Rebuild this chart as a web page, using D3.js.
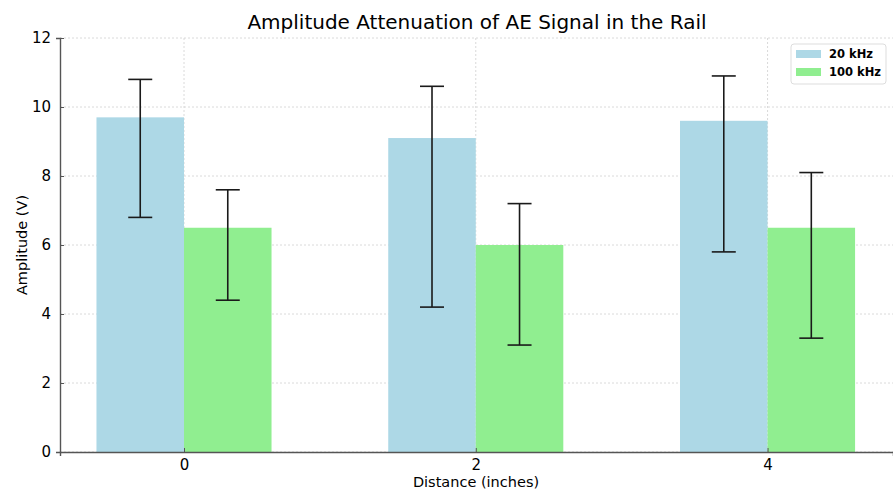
<!DOCTYPE html>
<html>
<head>
<meta charset="utf-8">
<script src="https://cdn.jsdelivr.net/npm/d3@7"></script>
<style>
  body { margin: 0; background: #fff; }
  svg { display: block; font-family: "DejaVu Sans", sans-serif; }
</style>
</head>
<body>
<svg width="893" height="491"></svg>
<script>
// data
const distances = ['0', '2', '4'];
const series = ['20 kHz', '100 kHz'];
const colors = ['#add8e6', '#90ee90'];
const amp20 = [9.7, 9.1, 9.6];
const amp100 = [6.5, 6.0, 6.5];
const hi20 = [10.8, 10.6, 10.9];
const lo20 = [6.8, 4.2, 5.8];
const hi100 = [7.6, 7.2, 8.1];
const lo100 = [4.4, 3.1, 3.3];
const yTicks = [0, 2, 4, 6, 8, 10, 12];

const svg = d3.select('svg');
const mLeft = 60, mRight = 893, mTop = 38, mBottom = 452;
const barW = 0.3;

const x = d3.scaleLinear().domain([-0.425, 2.43]).range([mLeft, mRight]);
const y = d3.scaleLinear().domain([0, 12]).range([mBottom, mTop]);

// grid
const grid = svg.append('g');
grid.selectAll('.hg').data(yTicks).enter().append('line')
    .attr('x1', mLeft).attr('x2', mRight)
    .attr('y1', d => y(d)).attr('y2', d => y(d))
    .attr('stroke', '#d0d0d0').attr('stroke-width', 0.8).attr('stroke-dasharray', '2,2');
grid.selectAll('.vg').data(distances).enter().append('line')
    .attr('x1', (d, i) => x(i)).attr('x2', (d, i) => x(i))
    .attr('y1', mTop).attr('y2', mBottom)
    .attr('stroke', '#d0d0d0').attr('stroke-width', 0.8).attr('stroke-dasharray', '2,2');

// bars
const rows = distances.map((d, i) => [
    { s: 0, i, v: amp20[i], hi: hi20[i], lo: lo20[i] },
    { s: 1, i, v: amp100[i], hi: hi100[i], lo: lo100[i] }
]).flat();

const xPos = d => d.s === 0 ? d.i - barW / 2 : d.i + barW / 2;

svg.append('g').selectAll('rect').data(rows).enter().append('rect')
    .attr('x', d => x(xPos(d) - barW / 2))
    .attr('width', d => x(barW) - x(0))
    .attr('y', d => y(d.v))
    .attr('height', d => y(0) - y(d.v))
    .attr('fill', d => colors[d.s]);

// error bars
const err = svg.append('g').attr('stroke', '#1a1a1a').attr('stroke-width', 1.6);
rows.forEach(d => {
    const cx = x(xPos(d));
    err.append('line').attr('x1', cx).attr('x2', cx).attr('y1', y(d.hi)).attr('y2', y(d.lo));
    [d.hi, d.lo].forEach(v => {
        err.append('line').attr('x1', cx - 12).attr('x2', cx + 12).attr('y1', y(v)).attr('y2', y(v));
    });
});

// axes
const yAxis = svg.append('g').attr('transform', 'translate(' + mLeft + ',0)')
    .call(d3.axisLeft(y).tickValues(yTicks).tickSize(4).tickPadding(5));
const xAxis = svg.append('g').attr('transform', 'translate(0,' + mBottom + ')')
    .call(d3.axisBottom(x).tickValues([0, 1, 2]).tickFormat((d, i) => distances[i]).tickSize(4).tickPadding(3));
[yAxis, xAxis].forEach(a => {
    a.select('.domain').attr('stroke', '#555').attr('stroke-width', 1.4);
    a.selectAll('.tick line').attr('stroke', '#555');
    a.selectAll('.tick text').attr('fill', '#000').style('font-size', '15px')
        .style('font-family', '"DejaVu Sans", sans-serif');
});
xAxis.selectAll('.tick line').attr('y1', -4).attr('y2', 0);
yAxis.selectAll('.tick line').attr('x1', 0).attr('x2', 4);

// labels
svg.append('text').attr('x', 477).attr('y', 29).attr('text-anchor', 'middle')
    .style('font-size', '20px').text('Amplitude Attenuation of AE Signal in the Rail');
svg.append('text').attr('x', 476).attr('y', 487).attr('text-anchor', 'middle')
    .style('font-size', '14.5px').text('Distance (inches)');
svg.append('text').attr('transform', 'translate(27,' + ((mTop + mBottom) / 2) + ') rotate(-90)')
    .attr('text-anchor', 'middle').style('font-size', '14.5px').text('Amplitude (V)');

// legend
const lg = svg.append('g').attr('transform', 'translate(791,44)');
lg.append('rect').attr('width', 95).attr('height', 40).attr('rx', 3)
    .attr('fill', '#fff').attr('stroke', '#ddd');
series.forEach((s, i) => {
    lg.append('rect').attr('x', 5).attr('y', 6 + i * 18).attr('width', 25).attr('height', 8).attr('fill', colors[i]);
    lg.append('text').attr('x', 38).attr('y', 14 + i * 18).style('font-size', '11.5px')
        .style('font-weight', 'bold').text(s);
});
</script>
</body>
</html>
